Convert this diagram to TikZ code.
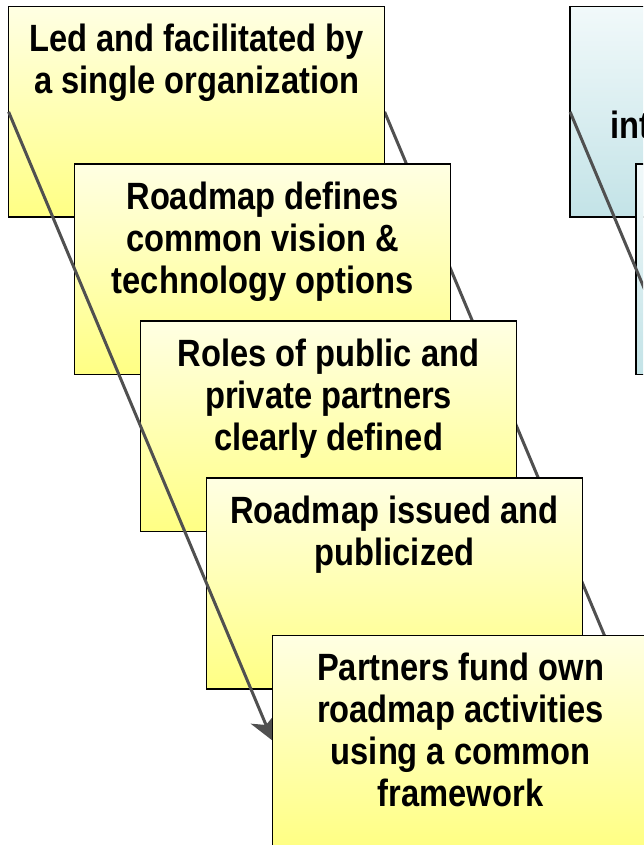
\documentclass[tikz,border=0pt]{standalone}
\usepackage{fontspec}
\setmainfont[FakeStretch=0.86]{Liberation Sans}
\usepackage{xcolor}
\usetikzlibrary{arrows.meta, positioning, backgrounds}

\pgfdeclarelayer{front}
\pgfsetlayers{background,main,front}

\definecolor{paletop}{HTML}{FFFFE3}
\definecolor{palebottom}{HTML}{FFFF84}
\definecolor{tealtop}{HTML}{F1F9FA}
\definecolor{tealbottom}{HTML}{C3E3E7}
\definecolor{linkgray}{HTML}{505050}

\begin{document}
\begin{tikzpicture}[
    stepbox/.style={rectangle, draw=black, line width=1.6pt, top color=paletop, bottom color=palebottom, minimum width=376pt, minimum height=210.5pt, inner sep=0pt, outer sep=0pt},
    altbox/.style={stepbox, top color=tealtop, bottom color=tealbottom},
    caption/.style={align=center, inner sep=0pt, font=\fontsize{38}{42}\selectfont\bfseries},
    link/.style={draw=linkgray, line width=3pt},
    arrow/.style={link, -{Stealth[length=24pt, width=27pt, inset=7pt]}}
]

\useasboundingbox (0,0) rectangle (643pt,-845pt);
\clip (0,0) rectangle (643pt,-845pt);

% Column 1: yellow steps
\node[stepbox, anchor=north west] (lead) at (8.6pt,-6.6pt) {};
\node[caption, below=17.5pt of lead.north] (leadtext) {Led and facilitated by\\a single organization};

\node[stepbox, below right=-53.3pt and -310pt of lead] (defines) {};
\node[caption, below=17.5pt of defines.north] (definestext) {Roadmap defines\\common vision \&\\technology options};

\node[stepbox, below right=-53.3pt and -310pt of defines] (roles) {};
\node[caption, below=17.5pt of roles.north] (rolestext) {Roles of public and\\private partners\\clearly defined};

\node[stepbox, below right=-53.3pt and -310pt of roles] (issued) {};
\node[caption, below=17.5pt of issued.north] (issuedtext) {Roadmap issued and\\publicized};

\begin{pgfonlayer}{front}
\node[stepbox, below right=-53.3pt and -310pt of issued] (fund) {};
\node[caption, below=17.5pt of fund.north] (fundtext) {Partners fund own\\roadmap activities\\using a common\\framework};
\end{pgfonlayer}

% Column 2: teal steps
\node[altbox, right=185.5pt of lead] (alt1) {};
\node[caption, anchor=base west] (alttext) at ([shift={(40pt,-132pt)}]alt1.north west) {int};
\node[altbox, below right=-53.3pt and -310pt of alt1] (alt2) {};
\coordinate (altend) at ([shift={(264pt,-629pt)}]alt1.west);

% Arrows
\begin{scope}[on background layer]
\draw[link] (lead.east) -- (fund.east);
\end{scope}
\draw[arrow] (lead.west) -- (fund.west);
\draw[link] (alt1.west) -- (altend);

\end{tikzpicture}
\end{document}
